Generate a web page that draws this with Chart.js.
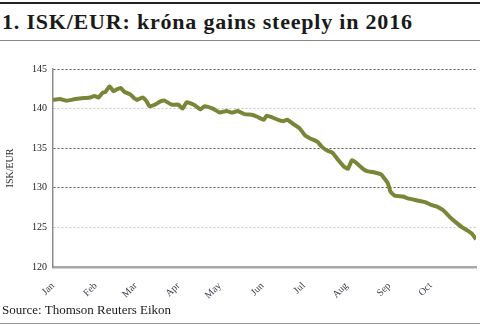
<!DOCTYPE html>
<html>
<head>
<meta charset="utf-8">
<script src="https://cdn.jsdelivr.net/npm/chart.js@4"></script>
<style>
  html, body { margin: 0; padding: 0; background: #fff; }
  #wrap { position: relative; width: 480px; height: 326px; overflow: hidden; font-family: "Liberation Serif", serif; }
  #topRule { position: absolute; left: 0; top: 2px; width: 480px; height: 2px; background: #222; }
  #title { position: absolute; left: 2px; top: 9px; font-size: 22px; font-weight: bold; color: #1a1a1a; white-space: nowrap; letter-spacing: 0.8px; }
  #midRule { position: absolute; left: 0; top: 40px; width: 480px; height: 1px; background: #888; }
  #source { position: absolute; left: 2px; top: 302px; font-size: 13px; color: #1a1a1a; }
  #botRule { position: absolute; left: 0; top: 323px; width: 480px; height: 1px; background: #999; }
  #chartBox { position: absolute; left: 0; top: 0; width: 480px; height: 326px; }
</style>
</head>
<body>
<div id="wrap">
  <div id="topRule"></div>
  <div id="title">1. ISK/EUR: króna gains steeply in 2016</div>
  <div id="midRule"></div>
  <div id="chartBox"><canvas id="fx"></canvas></div>
  <div id="source">Source: Thomson Reuters Eikon</div>
  <div id="botRule"></div>
</div>
<script>
// day of year 2016 (0 = 1 Jan) and ISK per EUR
const days = [0, 5, 10, 16, 21, 27, 30, 33, 36, 38, 41, 44, 46, 49, 52, 56, 59, 61, 65, 68,
  70, 74, 78, 81, 86, 91, 94, 97, 101, 103, 107, 110, 116, 121, 126, 130, 134, 139, 145, 149,
  153, 155, 159, 163, 167, 170, 174, 179, 183, 187, 192, 195, 199, 203, 207, 211, 214, 217, 219, 221,
  225, 228, 232, 238, 240, 243, 245, 248, 254, 257, 262, 267, 270, 275, 279, 283, 288, 292, 297, 301,
  304, 307];
const rates = [141.1, 141.2, 141.0, 141.2, 141.3, 141.4, 141.6, 141.4, 142.0, 142.1, 142.8, 142.2, 142.4, 142.6, 142.1, 141.8, 141.3, 141.1, 141.4, 140.9,
  140.3, 140.5, 140.9, 141.0, 140.5, 140.5, 140.0, 140.8, 140.6, 140.4, 139.9, 140.3, 140.0, 139.5, 139.7, 139.5, 139.7, 139.3, 139.2, 138.9,
  138.6, 139.1, 138.9, 138.6, 138.4, 138.6, 138.1, 137.5, 136.6, 136.2, 135.8, 135.2, 134.7, 134.4, 133.5, 132.7, 132.4, 133.5, 133.3, 133.0,
  132.4, 132.1, 132.0, 131.7, 131.3, 130.6, 129.5, 129.0, 128.9, 128.7, 128.5, 128.3, 128.2, 127.8, 127.6, 127.2, 126.3, 125.7, 125.0, 124.6,
  124.2, 123.5];

const monthStarts = [0, 31, 60, 91, 121, 152, 182, 213, 244, 274];
const monthLabels = ["Jan", "Feb", "Mar", "Apr", "May", "Jun", "Jul", "Aug", "Sep", "Oct"];
const yTicks = [120, 125, 130, 135, 140, 145];
const darkLines = [130, 135, 145];

const ctx = document.getElementById("fx").getContext("2d");

new Chart(ctx, {
  type: "line",
  data: {
    datasets: [
      {
        data: days.map((d, i) => ({ x: d, y: rates[i] })),
        borderColor: "#7b8537",
        borderWidth: 4,
        pointRadius: 0,
        tension: 0.15,
        fill: false,
      },
    ],
  },
  options: {
    responsive: true,
    maintainAspectRatio: false,
    animation: false,
    layout: { padding: { top: 69, right: 4, bottom: 27, left: 0 } },
    scales: {
      x: {
        type: "linear",
        min: 0,
        max: 307,
        afterBuildTicks: (axis) => {
          axis.ticks = monthStarts.map((v) => ({ value: v }));
        },
        afterFit: (axis) => {
          axis.height = 32;
        },
        ticks: {
          autoSkip: false,
          minRotation: 45,
          maxRotation: 45,
          padding: 5,
          color: "#3d4150",
          font: { family: "Liberation Serif", size: 10 },
          callback: (value) => monthLabels[monthStarts.indexOf(value)],
        },
        grid: { display: false },
        border: { display: true, color: "#a8a8a8", width: 2.5 },
      },
      y: {
        min: 120,
        max: 145,
        afterBuildTicks: (axis) => {
          axis.ticks = yTicks.map((v) => ({ value: v }));
        },
        afterFit: (axis) => {
          axis.width = 53;
        },
        ticks: {
          padding: 6,
          color: "#222",
          font: { family: "Liberation Serif", size: 10 },
        },
        grid: {
          drawTicks: false,
          lineWidth: 1,
          color: (c) => {
            const v = c.tick ? c.tick.value : null;
            if (v === 120) return "rgba(0,0,0,0)";
            return darkLines.includes(v) ? "#555" : "#c4c4c4";
          },
        },
        border: { display: true, color: "#8c8c8c", width: 1.5, dash: [2, 2] },
        title: {
          display: true,
          text: "ISK/EUR",
          color: "#2a2a2a",
          font: { family: "Liberation Serif", size: 10 },
          padding: { top: 4, bottom: 0 },
        },
      },
    },
    plugins: {
      legend: { display: false },
      tooltip: { enabled: false },
    },
  },
});
</script>
</body>
</html>
